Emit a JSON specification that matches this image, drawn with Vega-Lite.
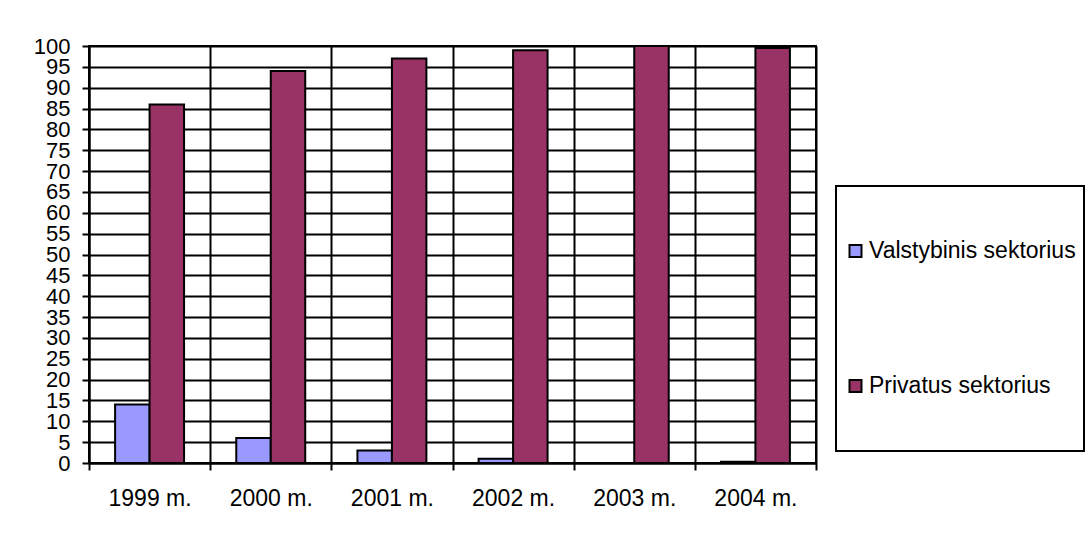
{
  "$schema": "https://vega.github.io/schema/vega-lite/v6.json",
  "width": 727,
  "height": 417,
  "autosize": {"type": "none"},
  "padding": {"left": 89, "top": 46, "right": 272, "bottom": 70},
  "background": "white",
  "data": {
    "values": [
      {"year": "1999 m.", "sector": "Valstybinis sektorius", "value": 14},
      {"year": "1999 m.", "sector": "Privatus sektorius", "value": 86},
      {"year": "2000 m.", "sector": "Valstybinis sektorius", "value": 6},
      {"year": "2000 m.", "sector": "Privatus sektorius", "value": 94},
      {"year": "2001 m.", "sector": "Valstybinis sektorius", "value": 3},
      {"year": "2001 m.", "sector": "Privatus sektorius", "value": 97},
      {"year": "2002 m.", "sector": "Valstybinis sektorius", "value": 1},
      {"year": "2002 m.", "sector": "Privatus sektorius", "value": 99},
      {"year": "2003 m.", "sector": "Valstybinis sektorius", "value": 0},
      {"year": "2003 m.", "sector": "Privatus sektorius", "value": 100},
      {"year": "2004 m.", "sector": "Valstybinis sektorius", "value": 0.3},
      {"year": "2004 m.", "sector": "Privatus sektorius", "value": 99.5}
    ]
  },
  "mark": {"type": "bar", "stroke": "black", "strokeWidth": 2},
  "encoding": {
    "x": {
      "field": "year",
      "type": "nominal",
      "sort": null,
      "scale": {"paddingInner": 0, "paddingOuter": 0},
      "axis": {
        "title": null,
        "labelAngle": 0,
        "tickBand": "extent",
        "grid": true,
        "tickSize": 7,
        "labelPadding": 17,
        "labelFontSize": 23
      }
    },
    "xOffset": {
      "field": "sector",
      "type": "nominal",
      "sort": ["Valstybinis sektorius", "Privatus sektorius"],
      "scale": {"paddingInner": 0, "paddingOuter": 0.757}
    },
    "y": {
      "field": "value",
      "type": "quantitative",
      "scale": {"domain": [0, 100], "nice": false},
      "axis": {
        "title": null,
        "values": [0, 5, 10, 15, 20, 25, 30, 35, 40, 45, 50, 55, 60, 65, 70, 75, 80, 85, 90, 95, 100],
        "labelOverlap": false,
        "tickSize": 7,
        "labelPadding": 12,
        "labelFontSize": 22,
        "grid": true
      }
    },
    "color": {
      "field": "sector",
      "type": "nominal",
      "sort": ["Valstybinis sektorius", "Privatus sektorius"],
      "scale": {"range": ["#9999FF", "#993366"]},
      "legend": {
        "title": null,
        "orient": "none",
        "legendX": 747,
        "legendY": 140,
        "strokeColor": "black",
        "fillColor": "white",
        "padding": 8,
        "clipHeight": 114,
        "rowPadding": 21,
        "symbolType": "square",
        "symbolSize": 144,
        "symbolStrokeColor": "black",
        "symbolStrokeWidth": 2,
        "labelFont": "Liberation Sans",
        "labelFontSize": 23,
        "labelColor": "black",
        "labelOffset": 2,
        "labelLimit": 0
      }
    }
  },
  "config": {
    "view": {"stroke": "black", "strokeWidth": 2},
    "legend": {"strokeWidth": 2},
    "axis": {
      "domainColor": "black",
      "domainWidth": 2,
      "tickColor": "black",
      "tickWidth": 2,
      "gridColor": "black",
      "gridWidth": 2,
      "gridOpacity": 1,
      "labelFont": "Liberation Sans",
      "labelFontSize": 22,
      "labelColor": "black"
    }
  }
}
